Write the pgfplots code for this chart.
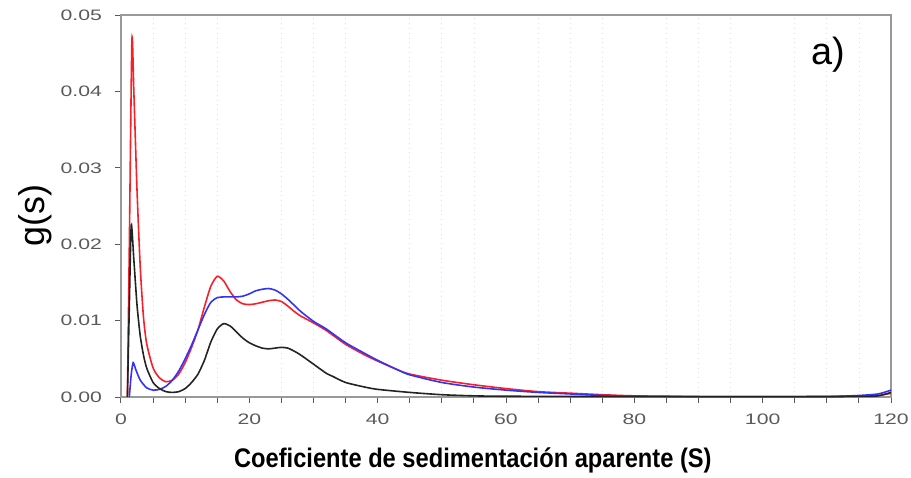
\documentclass[border=0pt]{standalone}
\usepackage{pgfplots}
\pgfplotsset{compat=1.18}
\usepackage{fontspec}
\setmainfont{Liberation Sans}

\definecolor{cred}{RGB}{250,30,40}
\definecolor{cblue}{RGB}{50,50,250}
\definecolor{cblack}{RGB}{35,35,35}
\definecolor{tickgray}{RGB}{90,90,90}

\begin{document}
\begin{tikzpicture}
\begin{axis}[
    at={(0,0)}, anchor=south west,
    scale only axis,
    width=385bp, height=191bp,
    xmin=0, xmax=120, ymin=0, ymax=0.05,
    xtick={0,20,...,120},
    ytick={0,0.01,...,0.05},
    minor x tick num=3,
    tick align=outside,
    major tick length=3bp, minor tick length=3bp,
    xtick pos=bottom, ytick pos=left,
    tick style={tickgray, line width=0.5pt},
    minor grid style={gray!25, dotted, line width=0.4pt},
    xminorgrids=true,
    axis line style={gray!80, line width=0.6pt},
    ticklabel style={font=\fontsize{7.6}{9}\selectfont, text=tickgray},
    /pgf/number format/assume math mode=true,
    scaled y ticks=false,
    xticklabel={\scalebox{1.4}[1]{\pgfmathprintnumber{\tick}}},
    yticklabel={\scalebox{1.4}[1]{\pgfmathprintnumber[fixed,fixed zerofill,precision=2]{\tick}}},
    yticklabel style={xshift=-3bp},
    xticklabel style={yshift=-2bp},
    xlabel={\scalebox{0.88}[1]{\bfseries Coeficiente de sedimentación aparente (S)}},
    xlabel style={at={(axis description cs:0.457,-0.166)}, anchor=center,
        font=\fontsize{13.5}{15}\selectfont},
    ylabel={g(s)},
    ylabel style={at={(axis description cs:-0.112,0.476)}, anchor=center,
        font=\fontsize{18}{20}\selectfont},
]

% rojo
\addplot[cred, line width=0.8pt, smooth, tension=0.4] coordinates {
(1.0,0) (1.3,0.02) (1.7,0.0467) (2.0,0.040) (2.5,0.027) (3.0,0.017)
(3.5,0.0105) (4,0.007) (5,0.0038) (6,0.0025) (7,0.002) (8,0.0022)
(9,0.003) (10,0.0045) (11,0.0065) (12,0.0088) (13,0.0118) (14,0.0145)
(15,0.0158) (16,0.0152) (17,0.0138) (18,0.0127) (19,0.0122) (20,0.0121)
(21,0.0122) (22,0.0124) (23,0.0126) (24,0.0127) (25,0.0125) (26,0.0119)
(27,0.0112) (28,0.0106) (30,0.0097) (32,0.0087) (35,0.0069) (38,0.0055)
(40,0.0047) (43,0.0036) (45,0.0030) (50,0.0022) (55,0.0016) (60,0.0011)
(65,0.0007) (70,0.0005) (75,0.0003) (80,0.00015) (90,0.00006)
(100,0.00005) (110,0.00005) (115,0.0001) (118,0.0002) (120,0.0005)
};

% azul
\addplot[cblue, line width=0.8pt, smooth, tension=0.4] coordinates {
(1.3,0) (1.6,0.003) (1.9,0.0045) (2.3,0.0036) (3,0.0022) (4,0.0012)
(5,0.0009) (6,0.001) (7,0.0014) (8,0.0022) (9,0.0034) (10,0.005)
(11,0.0068) (12,0.0088) (13,0.0108) (14,0.0124) (15,0.013) (16,0.0131)
(17,0.0131) (18,0.0131) (19,0.0132) (20,0.0135) (21,0.0139) (22,0.0141)
(23,0.0142) (24,0.014) (25,0.0135) (26,0.0128) (27,0.012) (28,0.0112)
(30,0.0099) (32,0.0089) (35,0.0071) (38,0.0057) (40,0.0048) (43,0.0036)
(45,0.0029) (50,0.0019) (55,0.0013) (60,0.0009) (65,0.0006) (70,0.0004)
(75,0.0002) (80,0.0001) (90,0.00005) (100,0.00005) (110,0.00005)
(115,0.0002) (118,0.0004) (120,0.0009)
};

% negro
\addplot[cblack, line width=0.8pt, smooth, tension=0.4] coordinates {
(1.0,0) (1.3,0.012) (1.6,0.0225) (2.0,0.018) (2.5,0.012) (3,0.008)
(3.5,0.0055) (4,0.0038) (5,0.0019) (6,0.0011) (7,0.0007) (8,0.0006)
(9,0.0007) (10,0.0011) (11,0.0019) (12,0.003) (13,0.0048) (14,0.0072)
(15,0.0089) (16,0.0096) (17,0.0093) (18,0.0085) (19,0.0077) (20,0.0071)
(21,0.0067) (22,0.0064) (23,0.0063) (24,0.0064) (25,0.0065) (26,0.0064)
(27,0.006) (28,0.0055) (30,0.0043) (32,0.0031) (33,0.0027) (35,0.0019)
(38,0.0013) (40,0.001) (45,0.0006) (50,0.0003) (55,0.00015) (60,0.0001)
(80,0.00005) (100,0.00005) (115,0.00008) (118,0.00015) (120,0.0006)
};

\node[font=\fontsize{19}{21}\selectfont] at (axis description cs:0.918,0.895) {a)};
\end{axis}
\pgfresetboundingbox
\path[use as bounding box] (-60.5bp,-40.5bp) rectangle (395bp,198.5bp);
\end{tikzpicture}
\end{document}
